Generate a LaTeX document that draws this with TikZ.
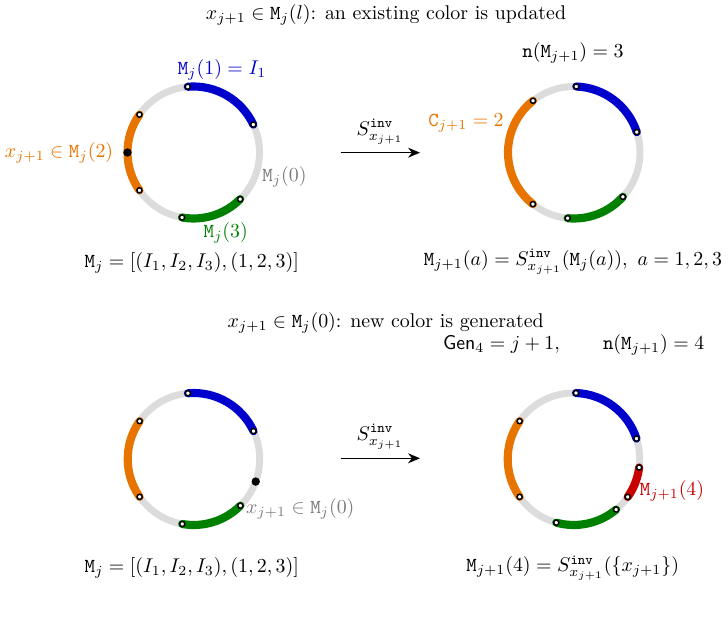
\documentclass[tikz,border=0pt]{standalone}
\usetikzlibrary{arrows.meta}
\definecolor{cblue}{HTML}{0000CC}
\definecolor{corange}{HTML}{E87400}
\definecolor{cgreen}{HTML}{008000}
\definecolor{cred}{HTML}{C80000}
\definecolor{cring}{HTML}{DCDCDC}
\definecolor{ctext}{HTML}{7A7A7A}
\newcommand\ringarc[4]{%
  \draw[colarc,draw=#2] ([shift={(#3:66)}]#1) arc[start angle=#3,end angle=#4,radius=66];
  \fill[enddot] ([shift={(#3:66)}]#1) circle (2.6);
  \fill[enddot] ([shift={(#4:66)}]#1) circle (2.6);
}
\tikzset{
  ring/.style={draw=cring,line width=3.5pt},
  colarc/.style={line width=4.1pt,line cap=round},
  enddot/.style={fill=white,draw=black,line width=0.75pt},
  xdot/.style={fill=black},
  lbl/.style={inner sep=0pt,anchor=center},
  maparrow/.style={-{Stealth[length=6pt,width=5pt]},line width=0.7pt},
}
\begin{document}
\begin{tikzpicture}[x=0.503pt,y=0.503pt]
\useasboundingbox (0,0) rectangle (728,623);
% centres
\coordinate (TL) at (193.5,470.5);
\coordinate (TR) at (574,470.5);
\coordinate (BL) at (193.7,164);
\coordinate (BR) at (573.7,164);
% ---------- top row ----------
\node[lbl] (title1) at (386,608) {$x_{j+1}\in\mathtt{M}_j(l)$: an existing color is updated};
\draw[ring] (TL) circle (66);
\ringarc{TL}{cblue}{95}{25}
\ringarc{TL}{corange}{145}{215}
\ringarc{TL}{cgreen}{260}{315}
\fill[xdot] ([shift={(180:66)}]TL) circle (4.2);
\node[lbl,text=cblue] (l1) at (222,553) {$\mathtt{M}_j(1)=I_1$};
\node[lbl,text=corange] (l2) at (59,470) {$x_{j+1}\in\mathtt{M}_j(2)$};
\node[lbl,text=ctext] (l0) at (284.5,446.3) {$\mathtt{M}_j(0)$};
\node[lbl,text=cgreen] (l3) at (225.7,390) {$\mathtt{M}_j(3)$};
\node[lbl] (mj1) at (191.7,359.7) {$\mathtt{M}_j=[(I_1,I_2,I_3),(1,2,3)]$};
\coordinate (a1s) at (340.7,470.3);
\coordinate (a1e) at (420,470.3);
\draw[maparrow] (a1s) -- (a1e);
\node[lbl] (s1) at (380,491.3) {$S^{\mathtt{inv}}_{x_{j+1}}$};
\draw[ring] (TR) circle (66);
\ringarc{TR}{cblue}{88}{18}
\ringarc{TR}{corange}{128.4}{231.5}
\ringarc{TR}{cgreen}{264.5}{317.8}
\node[lbl] (n3) at (573,569.7) {$\mathtt{n}(\mathtt{M}_{j+1})=3$};
\node[lbl,text=corange] (c2) at (466,500.3) {$\mathtt{C}_{j+1}=2$};
\node[lbl] (f1) at (573,361.3) {$\mathtt{M}_{j+1}(a)=S^{\mathtt{inv}}_{x_{j+1}}(\mathtt{M}_j(a)),\ a=1,2,3$};
% ---------- bottom row ----------
\node[lbl] (title2) at (385.7,299.7) {$x_{j+1}\in\mathtt{M}_j(0)$: new color is generated};
\node[lbl] (gen) at (573.7,278) {$\mathsf{Gen}_4=j+1,\qquad\mathtt{n}(\mathtt{M}_{j+1})=4$};
\draw[ring] (BL) circle (66);
\ringarc{BL}{cblue}{95}{25}
\ringarc{BL}{corange}{145}{215}
\ringarc{BL}{cgreen}{260}{315}
\fill[xdot] ([shift={(340:66)}]BL) circle (4.2);
\node[lbl,text=ctext] (lx0) at (300.3,113.7) {$x_{j+1}\in\mathtt{M}_j(0)$};
\node[lbl] (mj2) at (191.7,54.7) {$\mathtt{M}_j=[(I_1,I_2,I_3),(1,2,3)]$};
\coordinate (a2s) at (340.7,164.7);
\coordinate (a2e) at (420,164.7);
\draw[maparrow] (a2s) -- (a2e);
\node[lbl] (s2) at (380,186.3) {$S^{\mathtt{inv}}_{x_{j+1}}$};
\draw[ring] (BR) circle (66);
\ringarc{BR}{cblue}{88}{18}
\ringarc{BR}{corange}{145}{215}
\ringarc{BR}{cgreen}{254.7}{310}
\ringarc{BR}{cred}{352.6}{324.9}
\node[lbl,text=cred] (l4) at (672,132.3) {$\mathtt{M}_{j+1}(4)$};
\node[lbl] (f2) at (572.7,54.7) {$\mathtt{M}_{j+1}(4)=S^{\mathtt{inv}}_{x_{j+1}}(\{x_{j+1}\})$};
\end{tikzpicture}
\end{document}
